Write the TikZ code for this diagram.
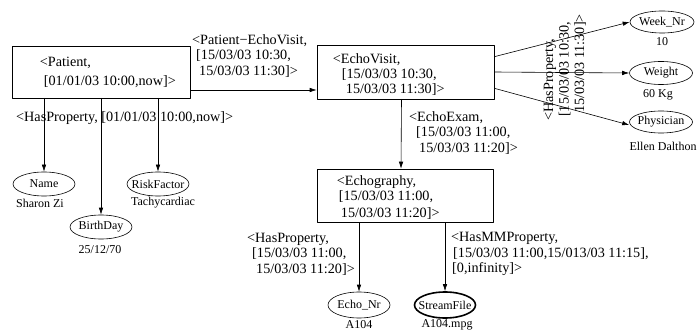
\documentclass[tikz,border=0pt]{standalone}
\usepackage{fontspec}
\setmainfont{Liberation Serif}
\usetikzlibrary{arrows.meta,positioning,shapes.geometric}

\tikzset{
  box/.style={draw, line width=0.6pt, inner sep=0pt},
  boxtxt/.style={align=left, inner sep=0pt, font=\fontsize{14.2}{15}\selectfont},
  lbl/.style={align=left, inner sep=0pt, font=\fontsize{14.2}{15.5}\selectfont},
  attr/.style={draw, ellipse, line width=0.6pt, inner sep=0pt,
    minimum width=62pt, minimum height=24pt, font=\fontsize{12}{14}\selectfont},
  val/.style={inner sep=0pt, font=\fontsize{12}{14}\selectfont},
  arr/.style={line width=0.6pt, -{Latex[length=7pt,width=4.5pt]}},
  ln/.style={line width=0.6pt}
}

\begin{document}
\begin{tikzpicture}[x=1pt,y=-1pt,line cap=round,line join=round]
  \useasboundingbox (0,0) rectangle (698,331);

  % entity boxes
  \node[box, minimum width=178pt, minimum height=52pt] (patient) at (101,72) {};
  \node[box, minimum width=177pt, minimum height=54pt] (evisit) at (405.5,72) {};
  \node[box, minimum width=176pt, minimum height=53pt] (echo) at (405,195.5) {};
  \node[boxtxt, right=28pt of patient.west] (patient-txt)
    {<Patient,\\[4pt]\hspace*{4pt}[01/01/03 10:00,now]>};
  \node[boxtxt, right=16pt of evisit.west, yshift=-3pt] (evisit-txt)
    {<EchoVisit,\\\hspace*{9pt}[15/03/03 10:30,\\\hspace*{13pt}15/03/03 11:30]>};
  \node[boxtxt, right=20pt of echo.west, yshift=-2.5pt] (echo-txt)
    {<Echography,\\\hspace*{2pt}[15/03/03 11:00,\\[2pt]\hspace*{4pt}15/03/03 11:20]>};

  % attributes of Patient
  \node[attr] (name) at (44,184) {\makebox[0pt]{Name}};
  \node[attr] (bday) at (101,227) {\makebox[0pt]{BirthDay}};
  \node[attr] (risk) at (158,184) {\makebox[0pt]{RiskFactor}};
  \node[val] (name-val) at (40,203) {Sharon Zi};
  \node[val] (bday-val) at (100,250) {25/12/70};
  \node[val] (risk-val) at (163,203) {Tachycardiac};

  % attributes of EchoVisit
  \node[attr, minimum width=64pt, minimum height=22pt] (weeknr) at (662,22) {\makebox[0pt]{Week\_Nr}};
  \node[attr, minimum width=63pt, minimum height=23pt] (weight) at (661,73) {\makebox[0pt]{Weight}};
  \node[attr, minimum width=63pt, minimum height=22pt] (physician) at (661,122) {\makebox[0pt]{Physician}};
  \node[val] (weeknr-val) at (662,42) {10};
  \node[val] (weight-val) at (658,95) {60 Kg};
  \node[val] (physician-val) at (663,146) {Ellen Dalthon};

  % attributes of Echography
  \node[attr, minimum height=26pt] (echonr) at (359,305) {\makebox[0pt]{Echo\_Nr}};
  \node[attr, minimum width=61pt, minimum height=26pt, line width=1.6pt] (stream) at (445,305) {\makebox[0pt]{StreamFile}};
  \node[val] (echonr-val) at (359,325) {A104};
  \node[val] (stream-val) at (447,325) {A104.mpg};

  % connectors
  \draw[arr] ([yshift=-18pt]patient.east) -- ([yshift=-18pt]evisit.west);
  \draw[arr] (name.north |- patient.south) -- (name);
  \draw[arr] (bday.north |- patient.south) -- (bday);
  \draw[arr] (risk.north |- patient.south) -- (risk);
  \draw[arr] ([yshift=-12pt]evisit.north east) -- (weeknr.west);
  \draw[arr] (evisit.east) -- (weight.west);
  \draw[arr] ([yshift=11pt]evisit.south east) -- ([yshift=-3pt]physician.west);
  \draw[arr] ([xshift=-4pt]evisit.south) -- ([xshift=-4pt]echo.north);
  \draw[arr] (echonr.north |- echo.south) -- (echonr);
  \draw[arr] (stream.north |- echo.south) -- (stream);

  % relation labels
  \node[lbl, anchor=west] (pe-lbl) at (192,56)
    {<Patient−EchoVisit,\\\hspace*{4pt}[15/03/03 10:30,\\\hspace*{7pt}15/03/03 11:30]>};
  \node[lbl, anchor=west] (php-lbl) at (16,118) {<HasProperty, [01/01/03 10:00,now]>};
  \node[lbl, anchor=west] (exam-lbl) at (409,133)
    {<EchoExam,\\\hspace*{7pt}[15/03/03 11:00,\\\hspace*{10pt}15/03/03 11:20]>};
  \node[lbl, rotate=90, anchor=west] (vhp-lbl) at (565,121)
    {<HasProperty,\\\hspace*{4pt}[15/03/03 10:30,\\\hspace*{8pt}15/03/03 11:30]>};
  \node[lbl, anchor=west] (ehp-lbl) at (247,254)
    {<HasProperty,\\\hspace*{5pt}[15/03/03 11:00,\\\hspace*{9pt}15/03/03 11:20]>};
  \node[lbl, anchor=west] (mm-lbl) at (451,254)
    {<HasMMProperty,\\\hspace*{2pt}[15/03/03 11:00,15/013/03 11:15],\\\hspace*{1pt}[0,infinity]>};
\end{tikzpicture}
\end{document}
